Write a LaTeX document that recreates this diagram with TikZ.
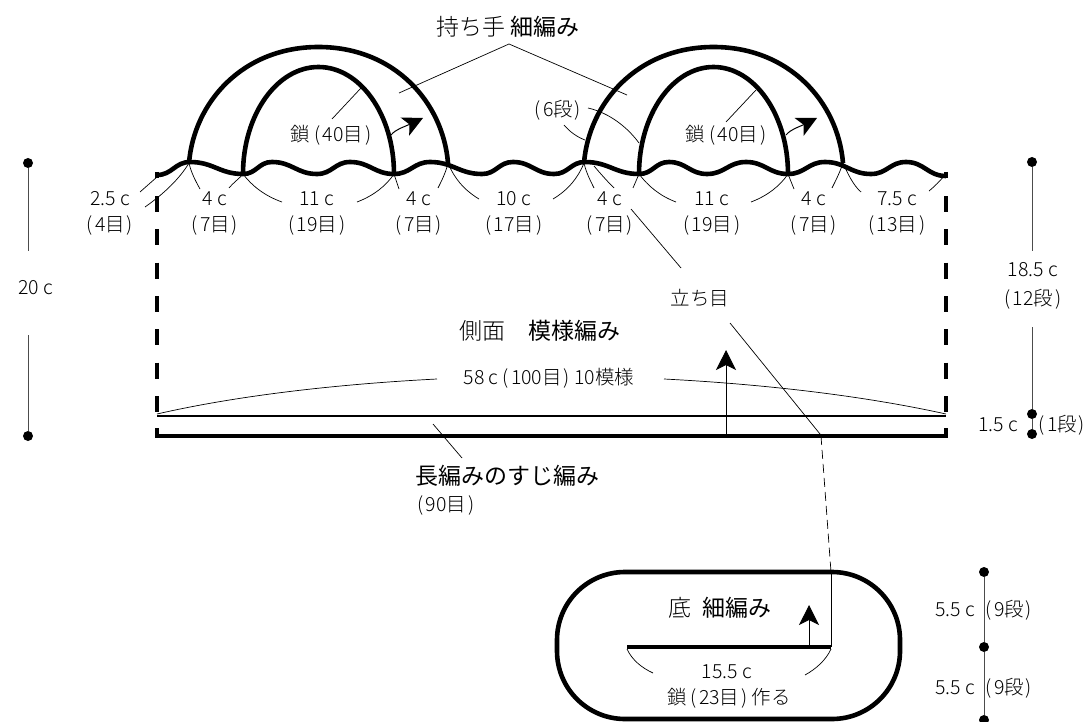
\documentclass[tikz,border=0pt]{standalone}
\usepackage{fontspec}
\usetikzlibrary{arrows.meta}
\setmainfont{Noto Sans CJK JP Light}
\newfontfamily\heavyfont{Noto Sans CJK JP}
\newcommand{\cnt}[1]{(\kern2pt#1\kern2pt)}
\tikzstyle{heavy} = [line width=4.6pt]
\tikzstyle{leader} = [line width=0.7pt]
\tikzstyle{dim} = [line width=1pt, draw=black!70]
\tikzstyle{arrow} = [line width=1pt,-{Stealth[length=20pt,width=20pt,inset=5pt]}]
\tikzstyle{lbl} = [inner sep=0pt, font=\fontsize{19.5}{24}\selectfont]
\tikzstyle{title} = [inner sep=0pt, font=\fontsize{23}{27}\selectfont]
\tikzstyle{dot} = [circle, fill=black, inner sep=0pt, minimum size=10pt]

\begin{document}
\begin{tikzpicture}[x=1pt,y=-1pt]
	\useasboundingbox (0,0) rectangle (1086,722);
	% wave along the top
	\draw[heavy, out=0, in=180, looseness=1.1] (157,175) to (190,162) to (243,174) to (272,162) to (317,174) to (350,162) to (394,174) to (430,162) to (482,174) to (513,162) to (554,174) to (585,162) to (639,174) to (669,162) to (707,174) to (746,162) to (788,174) to (825,162) to (871,174) to (906,162) to (946,176);
	\draw[heavy] (157,172) -- (157,178);
	\draw[heavy] (946,172) -- (946,178);
	% handles
	\coordinate (footA) at (189,163);
	\coordinate (footB) at (243,174);
	\coordinate (footC) at (394,174);
	\coordinate (footD) at (448,163);
	\coordinate (footE) at (584,163);
	\coordinate (footF) at (639,174);
	\coordinate (footG) at (788,174);
	\coordinate (footH) at (843,163);
	\draw[heavy] (footA) .. controls (194,102) and (243,47) .. (318.5,47) .. controls (394,47) and (443,102) .. (footD);
	\draw[heavy] (footE) .. controls (589,102) and (638,47) .. (713.5,47) .. controls (789,47) and (838,102) .. (footH);
	\draw[heavy] (footB) arc[start angle=180, end angle=360, x radius=75.5, y radius=107];
	\draw[heavy] (footF) arc[start angle=180, end angle=360, x radius=74.5, y radius=107];
	% dashed sides
	\foreach \y in {196,229.3,262.6,296,329.3,362.6,396}{
		\draw[heavy] (157,\y) -- +(0,16);
		\draw[heavy] (946,\y) -- +(0,16);
	}
	\draw[heavy] (157,428) -- (157,436) -- (946,436) -- (946,428);
	\draw[line width=1.6pt] (157,416) -- (946,416);
	% titles
	\node[title] (handle) at (508,27) {持ち手 {\heavyfont 細編み}};
	\node[title] (side) at (540,331) {側面\quad{\heavyfont 模様編み}};
	\node[title] (rib) at (507,476) {\heavyfont 長編みのすじ編み};
	\node[lbl] (ribcount) at (446,505) {\cnt{90目}};
	\node[title] (base) at (720,608) {底\;\,{\heavyfont 細編み}};
	\node[lbl] (chainA) at (331,135) {鎖 \cnt{40目}};
	\node[lbl] (chainB) at (726,135) {鎖 \cnt{40目}};
	\node[lbl] (rows) at (558,110) {\cnt{6段}};
	\node[lbl] (stand) at (700,298) {立ち目};
	\node[lbl] (width) at (549,378) {58 c \cnt{100目} 10模様};
	\node[lbl] (base len) at (727,672) {15.5 c};
	\node[lbl] (base chain) at (729,698) {鎖 \cnt{23目} 作る};
	% stitch counts under the wave
	\foreach \x/\top/\bot/\name in {110/2.5 c/4目/a, 215/4 c/7目/b, 317/11 c/19目/c, 419/4 c/7目/d, 514/10 c/17目/e, 610/4 c/7目/f, 712/11 c/19目/g, 814/4 c/7目/h, 897/7.5 c/13目/i}{
		\node[lbl] (top\name) at (\x,199) {\top};
		\node[lbl] (bot\name) at (\x,225) {\cnt{\bot}};
	}
	% leaders
	\draw[leader] (140,192) -- (157,177);
	\draw[leader] (145,207) .. controls (165,193) and (180,178) .. (footA);
	\draw[leader] (200,189) .. controls (195,180) and (191,172) .. (footA);
	\draw[leader] (229,188) .. controls (234,182) and (240,178) .. (footB);
	\draw[leader] (282,202) .. controls (265,196) and (252,186) .. (footB);
	\draw[leader] (357,202) .. controls (373,196) and (386,186) .. (footC);
	\draw[leader] (399,189) -- (footC);
	\draw[leader] (438,188) .. controls (442,180) and (446,172) .. (footD);
	\draw[leader] (479,199) .. controls (464,190) and (454,178) .. (footD);
	\draw[leader] (553,199) .. controls (568,190) and (578,178) .. (footE);
	\draw[leader] (594,188) .. controls (590,180) and (586,172) .. (footE);
	\draw[leader] (614,188) .. controls (606,180) and (600,173) .. (594,166);
	\draw[leader] (633,188) -- (footF);
	\draw[leader] (676,202) .. controls (660,196) and (648,186) .. (footF);
	\draw[leader] (751,202) .. controls (767,196) and (780,186) .. (footG);
	\draw[leader] (794,189) -- (footG);
	\draw[leader] (832,188) .. controls (836,180) and (840,172) .. (footH);
	\draw[leader] (861,192) .. controls (853,185) and (848,174) .. (footH);
	\draw[leader] (929,191) .. controls (935,186) and (940,181) .. (944,176);
	\draw[leader] (399,93) -- (509,44) -- (627,95);
	\draw[leader] (332,119) -- (361,88);
	\draw[leader] (726,122) -- (756,90);
	\draw[leader] (588,108) .. controls (610,113) and (628,128) .. (639,143);
	\draw[leader] (564,125) .. controls (570,132) and (577,137) .. (585,140);
	\draw[leader] (631,209) -- (681,268);
	\draw[leader] (730,323) -- (820,434);
	\draw[leader, dash pattern=on 9pt off 5pt] (821,436) -- (831,572);
	\draw[leader] (831,572) -- (831,647);
	\draw[leader] (157,414) .. controls (240,395) and (340,384) .. (437,379);
	\draw[leader] (664,379) .. controls (760,384) and (860,395) .. (946,414);
	\draw[leader] (433,424) -- (462,458);
	% curved and straight arrows
	\draw[arrow] (391,135) .. controls (396,129) and (404,127) .. (423,118);
	\draw[arrow] (786,135) .. controls (791,129) and (799,127) .. (817,118);
	\draw[arrow] (726,436) -- (726,350);
	\draw[arrow] (809,647) -- (809,605);
	% base
	\draw[heavy, rounded corners=68pt] (557,572) rectangle (900,719);
	\draw[heavy] (627,647) -- (831,647);
	\draw[leader] (627,649) .. controls (632,660) and (642,668) .. (653,673);
	\draw[leader] (831,649) .. controls (826,660) and (816,669) .. (805,675);
	% dimensions
	\node[dot] (leftA) at (28,163) {};
	\node[dot] (leftB) at (28,436) {};
	\coordinate (leftC) at (28,251);
	\coordinate (leftD) at (28,335);
	\node[lbl] (left) at (36,288) {20 c};
	\draw[dim] (leftA) -- (leftC) (leftD) -- (leftB);
	\node[dot] (rightA) at (1032,162) {};
	\node[dot] (rightB) at (1032,414) {};
	\node[dot] (rightC) at (1032,434) {};
	\coordinate (rightD) at (1032,251);
	\coordinate (rightE) at (1032,327);
	\node[lbl] (rightT) at (1033,270) {18.5 c};
	\node[lbl] (rightU) at (1033,299) {\cnt{12段}};
	\node[lbl] (rowT) at (998,425) {1.5 c};
	\node[lbl] (rowU) at (1062,425) {\cnt{1段}};
	\draw[dim] (rightA) -- (rightD) (rightE) -- (rightB) -- (rightC);
	\node[dot] (baseA) at (984,572) {};
	\node[dot] (baseB) at (984,647) {};
	\node[dot] (baseC) at (984,720) {};
	\draw[dim] (baseA) -- (baseB) -- (baseC);
	\node[lbl] (baseT) at (955,610) {5.5 c};
	\node[lbl] (baseU) at (1009,610) {\cnt{9段}};
	\node[lbl] (baseV) at (955,688) {5.5 c};
	\node[lbl] (baseW) at (1009,688) {\cnt{9段}};
\end{tikzpicture}
\end{document}
